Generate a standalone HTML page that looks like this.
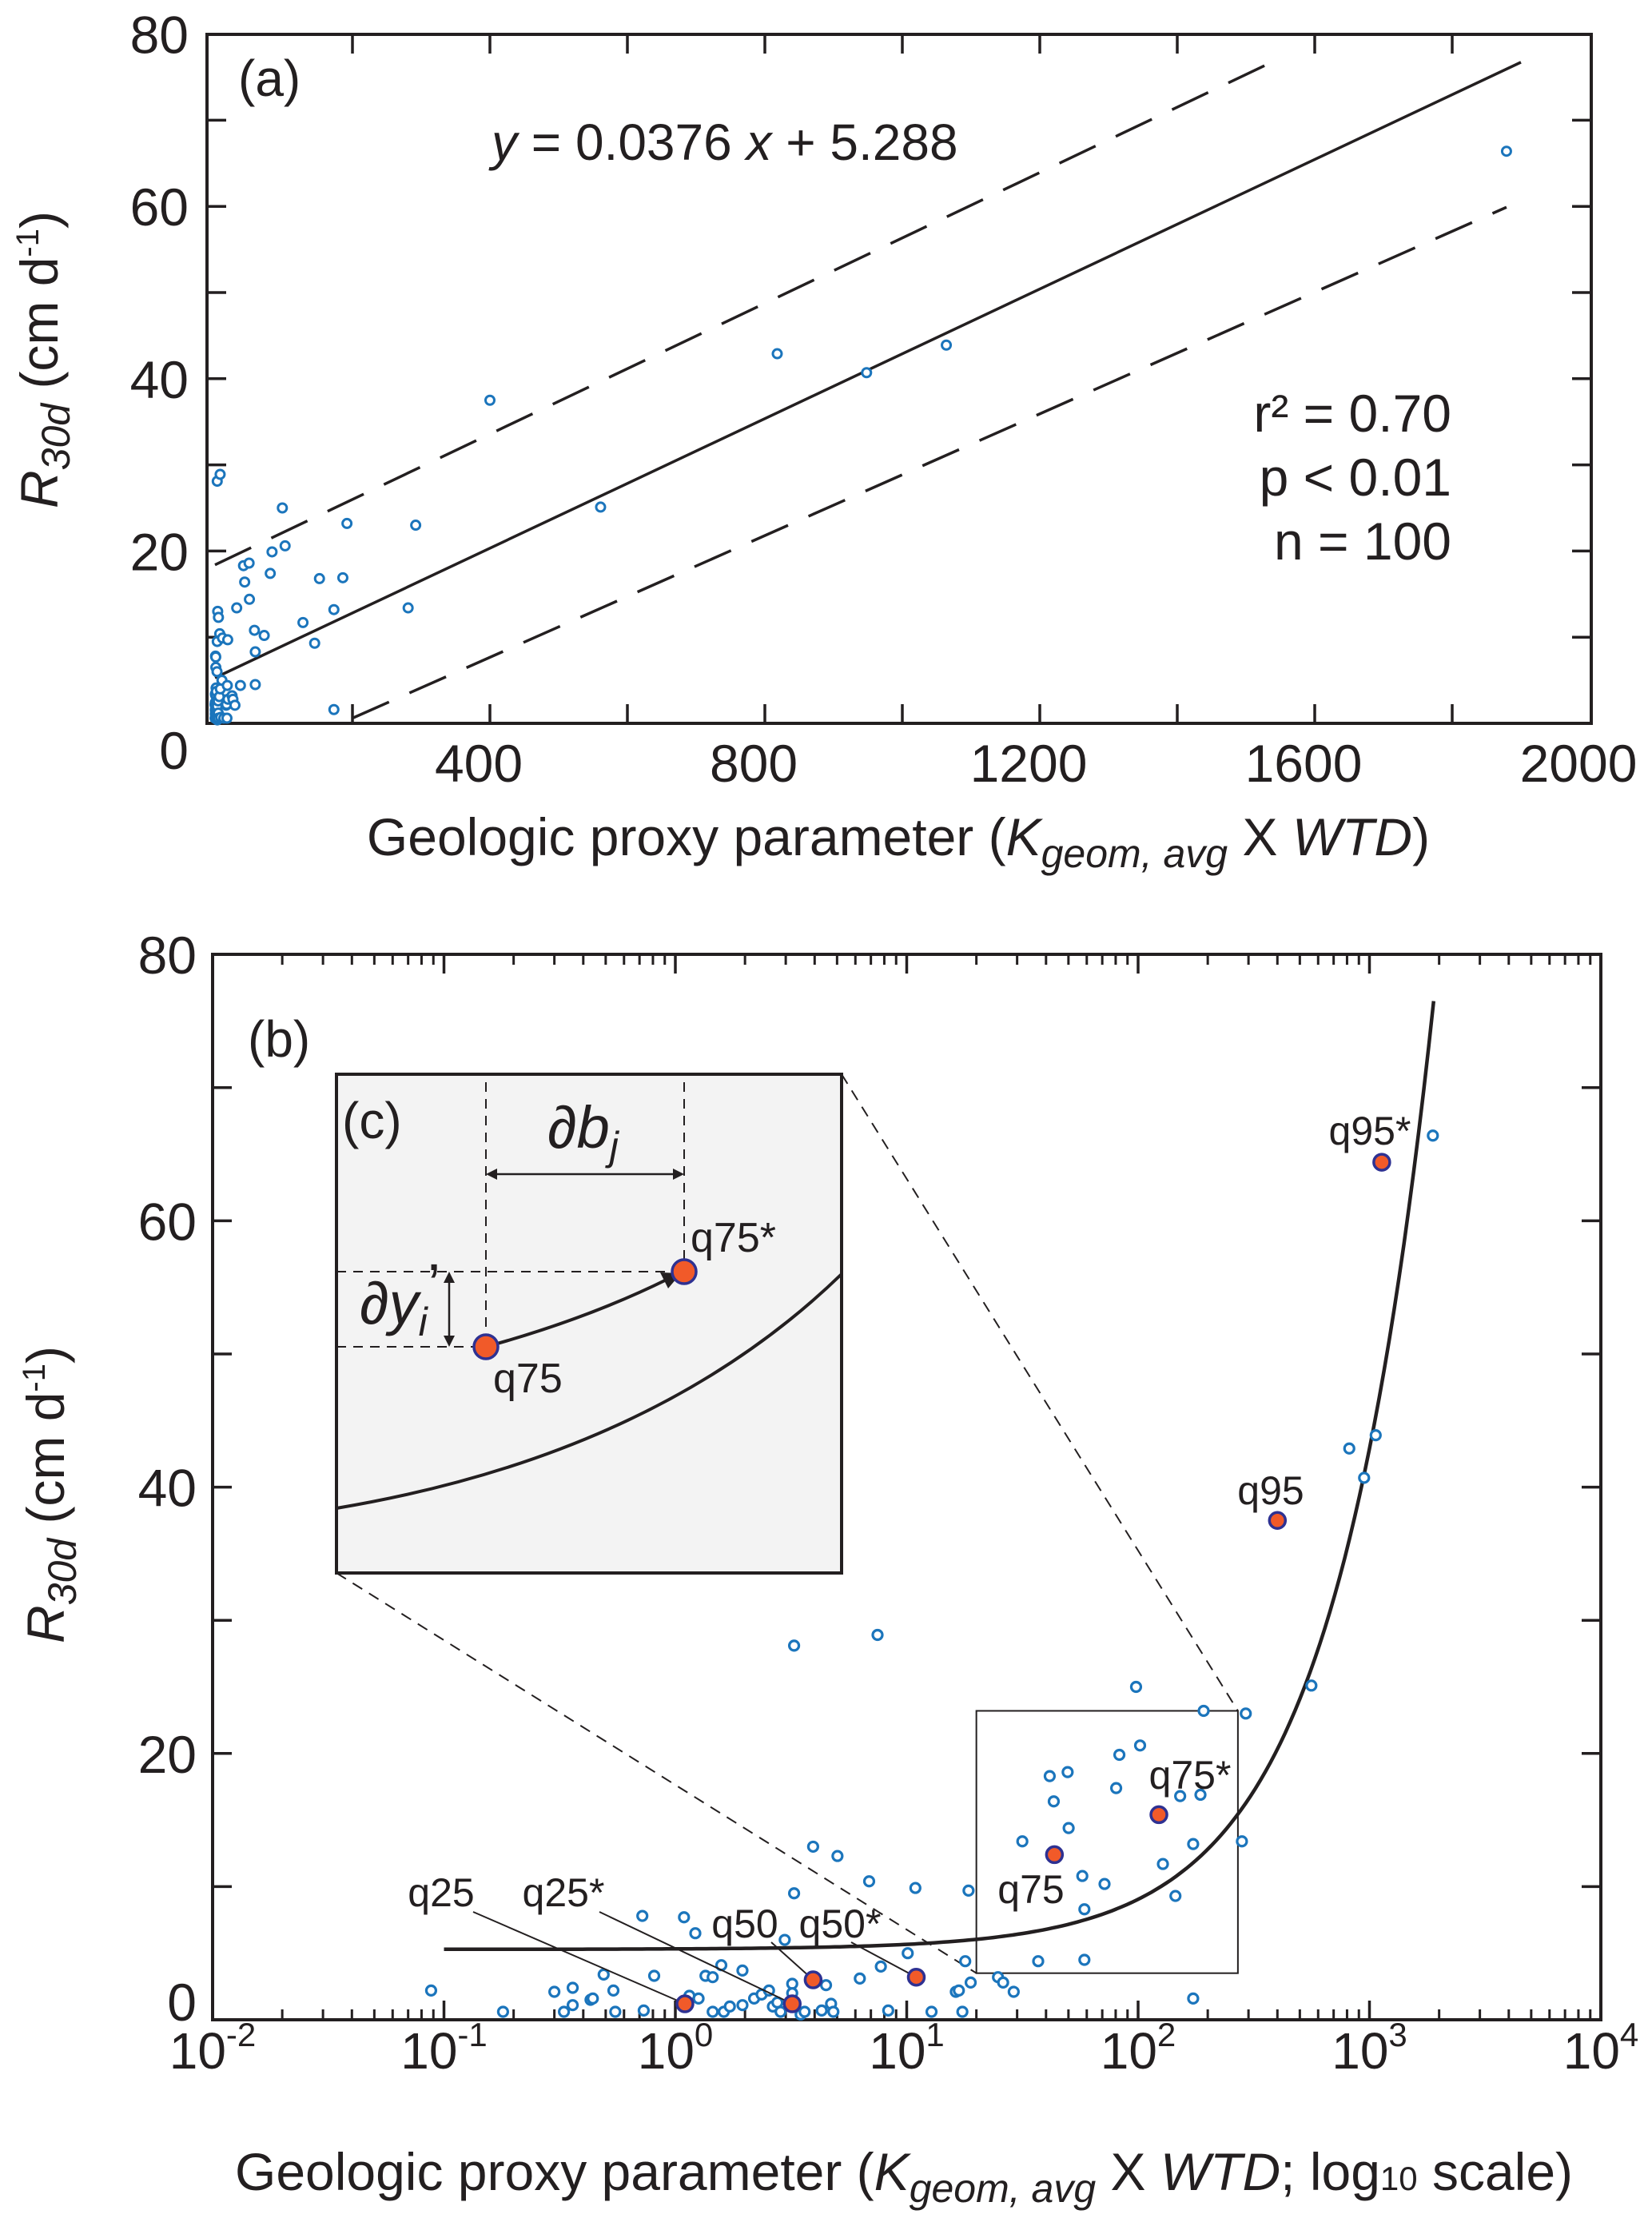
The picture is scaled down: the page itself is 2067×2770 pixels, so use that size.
<!DOCTYPE html>
<html><head><meta charset="utf-8">
<style>
html,body{margin:0;padding:0;background:#fff;}
svg{display:block;font-family:"Liberation Sans",Arial,sans-serif;}
</style></head>
<body>
<svg id="fig" width="2067" height="2770" viewBox="0 0 2067 2770" xmlns="http://www.w3.org/2000/svg">
<g id="pa"></g>
<g id="pb"></g>
</svg>
<script>
// ---- data ----
const obsX = [0.088,0.18,0.30,0.36,0.33,0.36,0.43,0.49,0.54,0.55,0.44,0.72,0.73,0.81,1.09,1.22,1.10,1.15,1.26,1.35,1.45,1.58,1.62,1.45,1.72,1.95,1.95,2.19,2.36,2.54,2.64,2.76,2.85,2.97,3.20,3.20,3.26,3.26,3.48,3.62,3.94,4.29,4.48,4.71,4.82,5.02,6.27,6.88,7.48,7.73,8.32,10.1,10.9,12.8,16.3,16.8,17.4,17.9,18.5,18.9,24.8,26.1,29.0,31.6,37.0,41.5,43.2,49.6,50.1,57.4,58.6,58.6,71.6,80.4,83.0,98,102,128,145,152,173,173,186,192,281,292,561,818,948,1064,1879,400];
const obsY = [2.2,0.6,2.1,2.4,0.6,1.1,1.5,3.4,2.2,0.6,1.6,7.8,0.7,3.3,7.7,6.5,1.4,1.8,1.6,3.3,3.2,4.1,0.6,0.6,1.0,3.7,1.1,1.6,1.9,2.2,1.0,1.3,0.6,6.0,2.7,2.0,9.5,28.1,0.4,0.6,13.0,0.7,2.6,1.2,0.6,12.3,3.1,10.4,28.9,4.0,0.7,5.0,9.9,0.6,2.1,2.2,0.6,4.4,9.7,2.8,3.2,2.8,2.1,13.4,4.4,18.3,16.4,18.6,14.4,10.8,8.3,4.5,10.2,17.4,19.9,25.0,20.6,11.7,9.3,16.8,13.2,1.6,16.9,23.2,13.4,23.0,25.1,42.9,40.7,43.9,66.4,37.5];
const qNames = ["q25","q25*","q50","q50*","q75","q75*","q95","q95*"];
const qX = [1.10,3.2,3.94,11.0,43.5,123,400,1130];
const qY = [1.2,1.2,3.0,3.2,12.4,15.4,37.5,64.4];
const fitCoef = [0.0376,5.288];
const upperBandX = [0,1542];
const upperBandY = [18.4,76.9];
const lowerBandX = [200,1879];
const lowerBandY = [0.6,59.9];
const ticksAx = [0,400,800,1200,1600,2000];
const ticksAy = [0,20,40,60,80];
const ticksBy = [0,20,40,60,80];
const decadesB = [-2,-1,0,1,2,3,4];
const zoomBoxX = [20,270];
const zoomBoxY = [3.5,23.2];

const NS="http://www.w3.org/2000/svg";
const TXT="#231f20", BLUE="#1b75bc";
function mk(parent,tag,attrs){const e=document.createElementNS(NS,tag);for(const k in attrs)e.setAttribute(k,attrs[k]);parent.appendChild(e);return e;}
function txt(p,x,y,s,size,name,anchor,extra){const t=mk(p,'text',Object.assign({x:x,y:y,'font-size':size,fill:TXT,'text-anchor':anchor||'start'},extra||{}));t.innerHTML=s;return t;}

// ---- Panel A ----
const pa=document.getElementById('pa');
const AX={l:259,r:1991,t:43,b:905};
const XA=v=>269+0.86*v, YA=v=>905-10.78*v;
let e;
e=mk(pa,'rect',{x:AX.l,y:AX.t,width:AX.r-AX.l,height:AX.b-AX.t,fill:'none',stroke:TXT,'stroke-width':4});

for(let v=200;v<2000;v+=200){const x=XA(v);
 mk(pa,'line',{x1:x,y1:AX.b,x2:x,y2:AX.b-24,stroke:TXT,'stroke-width':3.5});
 mk(pa,'line',{x1:x,y1:AX.t,x2:x,y2:AX.t+24,stroke:TXT,'stroke-width':3.5});}
for(let v=10;v<80;v+=10){const y=YA(v);
 mk(pa,'line',{x1:AX.l,y1:y,x2:AX.l+24,y2:y,stroke:TXT,'stroke-width':3.5});
 mk(pa,'line',{x1:AX.r,y1:y,x2:AX.r-24,y2:y,stroke:TXT,'stroke-width':3.5});}
ticksAx.forEach(v=>{if(v===0)return;e=mk(pa,'text',{x:XA(v)-14,y:978,'text-anchor':'middle','font-size':66,fill:TXT});e.textContent=v;
 });
ticksAy.forEach(v=>{let y=YA(v)+24, x=236; if(v===0){y=962;}
 e=mk(pa,'text',{x:x,y:y,'text-anchor':'end','font-size':66,fill:TXT});e.textContent=v;
 });
e=mk(pa,'line',{x1:XA(0),y1:YA(fitCoef[1]),x2:XA(1900),y2:YA(fitCoef[0]*1900+fitCoef[1]),stroke:TXT,'stroke-width':3.5});

e=mk(pa,'line',{x1:XA(upperBandX[0]),y1:YA(upperBandY[0]),x2:XA(upperBandX[1]),y2:YA(upperBandY[1]),stroke:TXT,'stroke-width':3.5,'stroke-dasharray':'50 28'});

e=mk(pa,'line',{x1:XA(lowerBandX[0]),y1:YA(lowerBandY[0]),x2:XA(lowerBandX[1]),y2:YA(lowerBandY[1]),stroke:TXT,'stroke-width':3.5,'stroke-dasharray':'50 28'});

obsX.forEach((x,i)=>{e=mk(pa,'circle',{cx:XA(x),cy:YA(obsY[i]),r:5.5,fill:'#fff',stroke:BLUE,'stroke-width':3});
 });
txt(pa,298,120,'(a)',64,'panel-a-label');
txt(pa,615,200,'<tspan font-style="italic">y</tspan> = 0.0376 <tspan font-style="italic">x</tspan> + 5.288',64,'regression-equation');
txt(pa,1816,540,'r² = 0.70',66,'r-squared','end');
txt(pa,1816,620,'p &lt; 0.01',66,'p-value','end');
txt(pa,1816,700,'n = 100',66,'sample-size','end');
txt(pa,1124,1070,'Geologic proxy parameter (<tspan font-style="italic">K</tspan><tspan font-style="italic" font-size="50" dy="15">geom, avg</tspan><tspan dy="-15"> X </tspan><tspan font-style="italic">WTD</tspan>)',66,'x-axis-title-a','middle');
txt(pa,0,0,'<tspan font-style="italic">R</tspan><tspan font-style="italic" font-size="50" dy="15">30d</tspan><tspan dy="-15"> (cm d</tspan><tspan font-size="40" dy="-24">-1</tspan><tspan dy="24">)</tspan>',66,'y-axis-title-a','middle',{transform:'translate(72,450) rotate(-90)'});

// ---- Panel B ----
const pb=document.getElementById('pb');
const BX={l:266,r:2003,t:1194,b:2527};
const XB=v=>266+289.5*(Math.log10(v)+2), YB=v=>2527-16.66*v;
e=mk(pb,'rect',{x:BX.l,y:BX.t,width:BX.r-BX.l,height:BX.b-BX.t,fill:'none',stroke:TXT,'stroke-width':4});

decadesB.forEach((d,i)=>{
 const x=XB(Math.pow(10,d));
 if(i>0&&i<decadesB.length-1){mk(pb,'line',{x1:x,y1:BX.b,x2:x,y2:BX.b-24,stroke:TXT,'stroke-width':3.5});mk(pb,'line',{x1:x,y1:BX.t,x2:x,y2:BX.t+24,stroke:TXT,'stroke-width':3.5});}
 if(i<decadesB.length-1)for(let m=2;m<10;m++){const xm=XB(m*Math.pow(10,d));
  mk(pb,'line',{x1:xm,y1:BX.b,x2:xm,y2:BX.b-13,stroke:TXT,'stroke-width':3});mk(pb,'line',{x1:xm,y1:BX.t,x2:xm,y2:BX.t+13,stroke:TXT,'stroke-width':3});}
 e=mk(pb,'text',{x:x,y:2588,'text-anchor':'middle','font-size':64,fill:TXT});
 e.innerHTML='10<tspan font-size="42" dy="-28">'+d+'</tspan>';
 
});
for(let v=10;v<80;v+=10){const y=YB(v);
 mk(pb,'line',{x1:BX.l,y1:y,x2:BX.l+24,y2:y,stroke:TXT,'stroke-width':3.5});
 mk(pb,'line',{x1:BX.r,y1:y,x2:BX.r-24,y2:y,stroke:TXT,'stroke-width':3.5});}
ticksBy.forEach(v=>{e=mk(pb,'text',{x:246,y:v===0?2528:YB(v)+24,'text-anchor':'end','font-size':66,fill:TXT});e.textContent=v;
 });
const zx1=XB(zoomBoxX[0]),zx2=XB(zoomBoxX[1]),zy1=YB(zoomBoxY[1]),zy2=YB(zoomBoxY[0]);
e=mk(pb,'rect',{x:zx1,y:zy1,width:zx2-zx1,height:zy2-zy1,fill:'none',stroke:TXT,'stroke-width':2});

const IN={l:421,t:1344,r:1053,b:1968};
e=mk(pb,'line',{x1:IN.r,y1:IN.t,x2:zx2,y2:zy1,stroke:TXT,'stroke-width':2,'stroke-dasharray':'14 10'});

e=mk(pb,'line',{x1:IN.l,y1:IN.b,x2:zx1,y2:zy2,stroke:TXT,'stroke-width':2,'stroke-dasharray':'14 10'});

let d='';for(let i=0;i<=200;i++){const lx=-1+i*(Math.log10(1894)+1)/200;const xv=Math.pow(10,lx);d+=(i?'L':'M')+XB(xv).toFixed(1)+','+YB(fitCoef[0]*xv+fitCoef[1]).toFixed(1);}
e=mk(pb,'path',{d:d,fill:'none',stroke:TXT,'stroke-width':4.5});

obsX.forEach((x,i)=>{e=mk(pb,'circle',{cx:XB(x),cy:YB(obsY[i]),r:6,fill:'#fff',stroke:BLUE,'stroke-width':3.2});
 });
const labPos=[[552,2385],[705,2385],[932,2424],[1051,2424],[1290,2381],[1489,2238],[1590,1882],[1714,1432]];
const leaderStart=[[592,2392],[750,2392],[965,2430],[1065,2430]];
leaderStart.forEach((s,i)=>{e=mk(pb,'line',{x1:s[0],y1:s[1],x2:XB(qX[i]),y2:YB(qY[i]),stroke:TXT,'stroke-width':2});
 });
qX.forEach((x,i)=>{e=mk(pb,'circle',{cx:XB(x),cy:YB(qY[i]),r:10,fill:'#f15a29',stroke:'#2e3192','stroke-width':3.5});
 
 txt(pb,labPos[i][0],labPos[i][1],qNames[i],50,'quantile-label','middle');});
txt(pb,310,1322,'(b)',64,'panel-b-label');
txt(pb,1131,2740,'Geologic proxy parameter (<tspan font-style="italic">K</tspan><tspan font-style="italic" font-size="50" dy="15">geom, avg</tspan><tspan dy="-15"> X </tspan><tspan font-style="italic">WTD</tspan>; log<tspan font-size="42">10</tspan> scale)',66,'x-axis-title-b','middle');
txt(pb,0,0,'<tspan font-style="italic">R</tspan><tspan font-style="italic" font-size="50" dy="15">30d</tspan><tspan dy="-15"> (cm d</tspan><tspan font-size="40" dy="-24">-1</tspan><tspan dy="24">)</tspan>',66,'y-axis-title-b','middle',{transform:'translate(80,1870) rotate(-90)'});

// ---- Inset C ----
const ic=mk(pb,'g',{});

mk(ic,'rect',{x:IN.l,y:IN.t,width:IN.r-IN.l,height:IN.b-IN.t,fill:'#f3f3f3',stroke:TXT,'stroke-width':4});
const p1=[608,1685],p2=[856,1591];
mk(ic,'path',{d:`M${IN.l},1887 Q820,1820 ${IN.r},1594`,fill:'none',stroke:TXT,'stroke-width':4});
[[p1[0],IN.t+10,p1[0],p1[1]],[p2[0],IN.t+10,p2[0],p2[1]],[IN.l,p2[1],p2[0],p2[1]],[IN.l,p1[1],p1[0],p1[1]]].forEach(s=>mk(ic,'line',{x1:s[0],y1:s[1],x2:s[2],y2:s[3],stroke:TXT,'stroke-width':2,'stroke-dasharray':'12 9'}));
mk(ic,'line',{x1:p1[0]+14,y1:1469,x2:p2[0]-14,y2:1469,stroke:TXT,'stroke-width':2.5});
mk(ic,'polygon',{points:`${p1[0]},1469 ${p1[0]+14},1462 ${p1[0]+14},1476`,fill:TXT});
mk(ic,'polygon',{points:`${p2[0]},1469 ${p2[0]-14},1462 ${p2[0]-14},1476`,fill:TXT});
mk(ic,'line',{x1:562,y1:p2[1]+14,x2:562,y2:p1[1]-14,stroke:TXT,'stroke-width':2.5});
mk(ic,'polygon',{points:`562,${p2[1]} 555,${p2[1]+14} 569,${p2[1]+14}`,fill:TXT});
mk(ic,'polygon',{points:`562,${p1[1]} 555,${p1[1]-14} 569,${p1[1]-14}`,fill:TXT});
mk(ic,'path',{d:`M${p1[0]},${p1[1]} Q735,1650 836,1600`,fill:'none',stroke:TXT,'stroke-width':4});
mk(ic,'polygon',{points:'852,1593 826,1592 836,1612',fill:TXT});
e=mk(ic,'circle',{cx:p1[0],cy:p1[1],r:15,fill:'#f15a29',stroke:'#2e3192','stroke-width':3.5});

e=mk(ic,'circle',{cx:p2[0],cy:p2[1],r:15,fill:'#f15a29',stroke:'#2e3192','stroke-width':3.5});

txt(ic,428,1424,'(c)',64,'panel-c-label');
txt(ic,685,1436,'∂<tspan font-style="italic">b</tspan><tspan font-style="italic" font-size="50" dy="15">j</tspan>',74,'delta-b-label');
txt(ic,450,1656,'∂<tspan font-style="italic">y</tspan><tspan font-style="italic" font-size="50" dy="15">i</tspan><tspan dy="-38">’</tspan>',74,'delta-y-label');
txt(ic,617,1742,'q75',52,'inset-q75-label');
txt(ic,864,1566,'q75*',52,'inset-q75-star-label');
</script>
</body></html>
